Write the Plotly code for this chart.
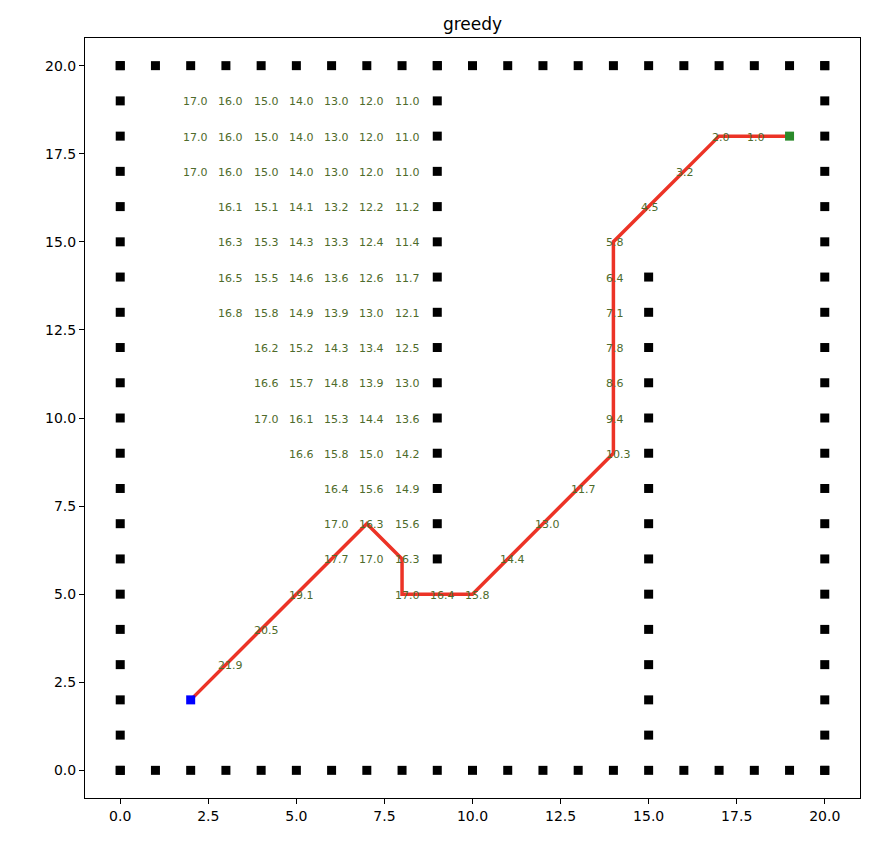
import plotly.graph_objects as go

# Obstacles
border = list(range(0, 21))
obs_x = []
obs_y = []
for v in border:
    obs_x += [v, v, 0, 20]
    obs_y += [0, 20, v, v]
wall1_y = list(range(6, 21))      # x = 9
wall2_y = list(range(1, 15))      # x = 15
obs_x += [9] * len(wall1_y) + [15] * len(wall2_y)
obs_y += wall1_y + wall2_y

start = (2, 2)
goal = (19, 18)

# Path found by greedy search
path_x = [2, 3, 4, 5, 6, 7, 8, 8, 9, 10, 11, 12, 13, 14, 14, 14, 14, 14, 14, 14, 15, 16, 17, 18, 19]
path_y = [2, 3, 4, 5, 6, 7, 6, 5, 5, 5, 6, 7, 8, 9, 10, 11, 12, 13, 14, 15, 16, 17, 18, 18, 18]

# Heuristic labels of visited nodes (x, y, value)
label_rows = {
    19: ([2, 3, 4, 5, 6, 7, 8], ["17.0", "16.0", "15.0", "14.0", "13.0", "12.0", "11.0"]),
    18: ([2, 3, 4, 5, 6, 7, 8], ["17.0", "16.0", "15.0", "14.0", "13.0", "12.0", "11.0"]),
    17: ([2, 3, 4, 5, 6, 7, 8], ["17.0", "16.0", "15.0", "14.0", "13.0", "12.0", "11.0"]),
    16: ([3, 4, 5, 6, 7, 8], ["16.1", "15.1", "14.1", "13.2", "12.2", "11.2"]),
    15: ([3, 4, 5, 6, 7, 8], ["16.3", "15.3", "14.3", "13.3", "12.4", "11.4"]),
    14: ([3, 4, 5, 6, 7, 8], ["16.5", "15.5", "14.6", "13.6", "12.6", "11.7"]),
    13: ([3, 4, 5, 6, 7, 8], ["16.8", "15.8", "14.9", "13.9", "13.0", "12.1"]),
    12: ([4, 5, 6, 7, 8], ["16.2", "15.2", "14.3", "13.4", "12.5"]),
    11: ([4, 5, 6, 7, 8], ["16.6", "15.7", "14.8", "13.9", "13.0"]),
    10: ([4, 5, 6, 7, 8], ["17.0", "16.1", "15.3", "14.4", "13.6"]),
    9: ([5, 6, 7, 8], ["16.6", "15.8", "15.0", "14.2"]),
    8: ([6, 7, 8], ["16.4", "15.6", "14.9"]),
    7: ([6, 7, 8], ["17.0", "16.3", "15.6"]),
    6: ([6, 7, 8], ["17.7", "17.0", "16.3"]),
    5: ([5, 8, 9, 10], ["19.1", "17.0", "16.4", "15.8"]),
    4: ([4], ["20.5"]),
    3: ([3], ["21.9"]),
}
path_lab_x = [11, 12, 13, 14, 14, 14, 14, 14, 14, 14, 15, 16, 17, 18]
path_lab_y = [6, 7, 8, 9, 10, 11, 12, 13, 14, 15, 16, 17, 18, 18]
path_lab_t = ["14.4", "13.0", "11.7", "10.3", "9.4", "8.6", "7.8", "7.1", "6.4", "5.8", "4.5", "3.2", "2.0", "1.0"]

tick_vals = [0, 2.5, 5, 7.5, 10, 12.5, 15, 17.5, 20]
tick_text = ["0.0", "2.5", "5.0", "7.5", "10.0", "12.5", "15.0", "17.5", "20.0"]

fig = go.Figure()
fig.add_trace(go.Scatter(x=obs_x, y=obs_y, mode="markers",
                         marker=dict(symbol="square", size=9, color="black"),
                         hoverinfo="skip"))
fig.add_trace(go.Scatter(x=path_x, y=path_y, mode="lines",
                         line=dict(color="#ec3326", width=3.5)))
fig.add_trace(go.Scatter(x=[start[0]], y=[start[1]], mode="markers",
                         marker=dict(symbol="square", size=9, color="#0000ff")))
fig.add_trace(go.Scatter(x=[goal[0]], y=[goal[1]], mode="markers",
                         marker=dict(symbol="square", size=9, color="#2a8a2a")))

lab_x, lab_y, lab_t = [], [], []
for yy, (xs, ts) in label_rows.items():
    lab_x += xs
    lab_y += [yy] * len(xs)
    lab_t += ts
lab_x += path_lab_x
lab_y += path_lab_y
lab_t += path_lab_t

annotations = []
for xx, yy, tt in zip(lab_x, lab_y, lab_t):
    annotations.append(dict(x=xx, y=yy, text=tt, showarrow=False, xanchor="left",
                            yanchor="middle", xshift=-9.5, yshift=-1,
                            font=dict(family="DejaVu Sans", size=11, color="#4e6b2b")))

axis_common = dict(showgrid=False, zeroline=False, showline=True, linecolor="black",
                   linewidth=1, mirror=True, ticks="outside", ticklen=5, tickwidth=1,
                   tickcolor="black", tickvals=tick_vals, ticktext=tick_text,
                   tickfont=dict(family="DejaVu Sans", size=14, color="black"))

fig.update_layout(
    width=892, height=868,
    margin=dict(l=77, r=40, t=30, b=78),
    plot_bgcolor="white", paper_bgcolor="white",
    showlegend=False,
    title=dict(text="greedy", x=0.5, xanchor="center", xref="paper",
               y=1, yref="paper", yanchor="bottom", pad=dict(b=8),
               font=dict(family="DejaVu Sans", size=17, color="black")),
    xaxis=dict(range=[-1, 21], **axis_common),
    yaxis=dict(range=[-0.785, 20.785], **axis_common),
    annotations=annotations,
)

fig.write_html("out.html")
